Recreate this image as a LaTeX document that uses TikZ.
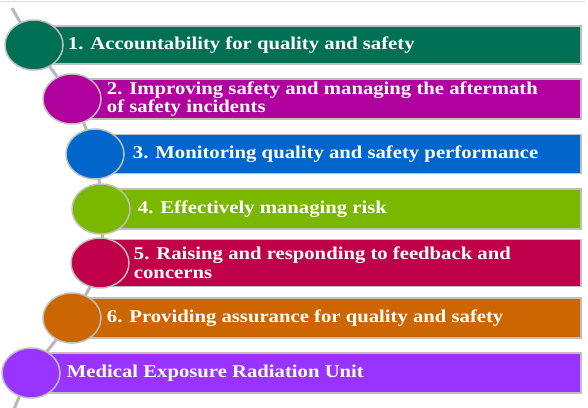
\documentclass[tikz,border=0pt]{standalone}
\usepackage{fontspec}
\setmainfont[FakeStretch=1.15]{Liberation Serif}
\usetikzlibrary{positioning,shapes.geometric}

\definecolor{rimgray}{RGB}{191,191,191}
\definecolor{spinegray}{RGB}{184,184,184}
\definecolor{topgray}{RGB}{222,222,222}
\definecolor{accgreen}{RGB}{0,112,84}
\definecolor{safemagenta}{RGB}{176,0,158}
\definecolor{monblue}{RGB}{0,102,204}
\definecolor{riskgreen}{RGB}{122,184,0}
\definecolor{feedred}{RGB}{192,0,72}
\definecolor{assorange}{RGB}{204,102,0}
\definecolor{unitviolet}{RGB}{153,51,255}

\begin{document}
\begin{tikzpicture}[x=1pt,y=-1pt,
  bar/.style={draw=rimgray, line width=1.5pt, anchor=west, inner sep=0pt},
  disc/.style={ellipse, draw=rimgray, line width=1.5pt, minimum width=58pt, minimum height=50pt, inner sep=0pt},
  itemtext/.style={text=white, font=\bfseries\fontsize{18}{16}\selectfont, align=left, inner sep=0pt}]
  \useasboundingbox (0,0) rectangle (588,407);
  % centres of the discs
  \coordinate (p1) at (34,45);
  \coordinate (p2) at (72,99);
  \coordinate (p3) at (95,154);
  \coordinate (p4) at (101,209);
  \coordinate (p5) at (100,263);
  \coordinate (p6) at (72,318);
  \coordinate (p7) at (31,373);
  \coordinate (top) at (12,8);
  \coordinate (bottom) at (13,412);
  \coordinate (ruleL) at (0,1);
  \coordinate (ruleR) at (585,1);
  \draw[topgray, line width=1pt] (ruleL) -- (ruleR);
  % the spine
  \draw[spinegray, line width=3pt] plot[smooth] coordinates {(top) (p1) (p2) (p3) (p4) (p5) (p6) (p7) (bottom)};
  % bars
  \node[bar, fill=accgreen, minimum width=546pt, minimum height=38pt] (b1) at (p1) {};
  \node[bar, fill=safemagenta, minimum width=508pt, minimum height=40pt] (b2) at (p2) {};
  \node[bar, fill=monblue, minimum width=485pt, minimum height=39pt] (b3) at (p3) {};
  \node[bar, fill=riskgreen, minimum width=479pt, minimum height=40pt] (b4) at (p4) {};
  \node[bar, fill=feedred, minimum width=480pt, minimum height=47pt] (b5) at (p5) {};
  \node[bar, fill=assorange, minimum width=508pt, minimum height=40pt] (b6) at (p6) {};
  \node[bar, fill=unitviolet, minimum width=549pt, minimum height=40pt] (b7) at (p7) {};
  % discs
  \node[disc, fill=accgreen] (c1) at (p1) {};
  \node[disc, fill=safemagenta] (c2) at (p2) {};
  \node[disc, fill=monblue] (c3) at (p3) {};
  \node[disc, fill=riskgreen] (c4) at (p4) {};
  \node[disc, fill=feedred] (c5) at (p5) {};
  \node[disc, fill=assorange] (c6) at (p6) {};
  \node[disc, fill=unitviolet] (c7) at (p7) {};
  % texts
  \node[itemtext, right=4pt of c1] (t1) {1. Accountability for quality and safety};
  \node[itemtext, right=5pt of c2] (t2) {2. Improving safety and managing the aftermath\\of safety incidents};
  \node[itemtext, right=8pt of c3] (t3) {3. Monitoring quality and safety performance};
  \node[itemtext, right=7pt of c4] (t4) {4. Effectively managing risk};
  \node[itemtext, right=4pt of c5] (t5) {5. Raising and responding to feedback and\\[3pt]concerns};
  \node[itemtext, right=5pt of c6] (t6) {6. Providing assurance for quality and safety};
  \node[itemtext, right=6pt of c7] (t7) {Medical Exposure Radiation Unit};
\end{tikzpicture}
\end{document}
